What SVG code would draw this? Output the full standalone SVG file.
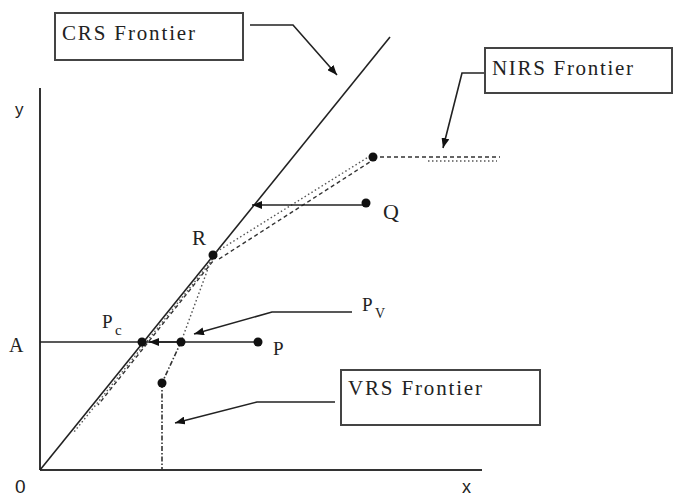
<svg xmlns="http://www.w3.org/2000/svg" width="673" height="497" viewBox="0 0 673 497">
<style>
.ax{stroke:#333;stroke-width:2;fill:none}
.ln{stroke:#222;stroke-width:1.6;fill:none}
.box{stroke:#444;stroke-width:2;fill:#fff}
.dash{stroke:#333;stroke-width:1.4;fill:none;stroke-dasharray:4,3}
.dot{stroke:#555;stroke-width:1.4;fill:none;stroke-dasharray:1.5,2.5}
.dd{stroke:#333;stroke-width:1.6;fill:none;stroke-dasharray:5,2,1.5,2}
.pt{fill:#111}
.serif{font-family:"Liberation Serif","Times New Roman",serif;fill:#222}
.sans{font-family:"Liberation Sans",Arial,sans-serif;fill:#222}
</style>
<defs>
<marker id="ah" viewBox="0 0 10 8" refX="10" refY="4" markerWidth="10" markerHeight="8" markerUnits="userSpaceOnUse" orient="auto">
<path d="M0,0 L10,4 L0,8 z" fill="#111"/>
</marker>
</defs>
<g id="axes">
<line class="ax" x1="40" y1="88" x2="40" y2="470"/>
<line class="ax" x1="40" y1="470" x2="482" y2="470"/>
<text class="sans" x="15" y="115" font-size="17">y</text>
<text class="sans" x="15" y="493" font-size="19">0</text>
<text class="sans" x="462" y="493" font-size="18">x</text>
</g>
<g id="crs-frontier">
<line class="ln" x1="40" y1="470" x2="390" y2="37"/>
</g>
<g id="nirs-frontier">
<line class="dot" x1="213" y1="254" x2="370" y2="156"/>
<line class="dash" x1="219" y1="259" x2="373" y2="160"/>
<line class="dash" x1="217" y1="256" x2="98" y2="405"/>
<line class="dot" x1="213" y1="259" x2="74" y2="432"/>
<line class="dash" x1="373" y1="157" x2="500" y2="157"/>
<line class="dot" x1="428" y1="161" x2="497" y2="161"/>
</g>
<g id="vrs-frontier">
<line class="dot" x1="213" y1="255" x2="181" y2="342" stroke-width="2"/>
<line class="dd" x1="181" y1="342" x2="162" y2="383"/>
<line class="dd" x1="162" y1="383" x2="162" y2="470"/>
</g>
<g id="connectors">
<line class="ln" x1="40" y1="342" x2="258" y2="342"/>
<line class="ln" x1="181" y1="342" x2="149" y2="342" marker-end="url(#ah)"/>
<line class="ln" x1="366" y1="205" x2="252" y2="205" marker-end="url(#ah)"/>
<polyline class="ln" points="250,25 293,25 337,75" marker-end="url(#ah)"/>
<polyline class="ln" points="485,73 462,73 443,148" marker-end="url(#ah)"/>
<polyline class="ln" points="335,402 257,402 175,423" marker-end="url(#ah)"/>
<polyline class="ln" points="352,312 272,312 194,334" marker-end="url(#ah)"/>
</g>
<g id="point-R">
<circle class="pt" cx="213" cy="255" r="4.5"/>
<text class="serif" x="192" y="245" font-size="21">R</text>
</g>
<g id="point-Pc">
<circle class="pt" cx="142" cy="342" r="4.5"/>
<text class="serif" x="102" y="328" font-size="19">P</text>
<text class="serif" x="115" y="335" font-size="15">c</text>
</g>
<g id="point-Pv">
<circle class="pt" cx="181" cy="342" r="4.5"/>
<text class="serif" x="362" y="311" font-size="19">P</text>
<text class="serif" x="375" y="318" font-size="14">V</text>
</g>
<g id="point-P">
<circle class="pt" cx="258" cy="342" r="4.5"/>
<text class="serif" x="273" y="355" font-size="19">P</text>
</g>
<g id="point-A">
<text class="serif" x="9" y="352" font-size="20">A</text>
</g>
<g id="point-Q">
<circle class="pt" cx="366" cy="203" r="4.5"/>
<text class="serif" x="383" y="219" font-size="22">Q</text>
</g>
<g id="point-N">
<circle class="pt" cx="373" cy="157" r="4.5"/>
</g>
<g id="point-V">
<circle class="pt" cx="162" cy="383" r="4.5"/>
</g>
<g id="box-crs">
<rect class="box" x="55" y="13" width="188" height="47"/>
<text class="serif" x="62" y="40" font-size="21" textLength="133" lengthAdjust="spacing">CRS Frontier</text>
</g>
<g id="box-nirs">
<rect class="box" x="485" y="48" width="187" height="45"/>
<text class="serif" x="492" y="75" font-size="21" textLength="141" lengthAdjust="spacing">NIRS Frontier</text>
</g>
<g id="box-vrs">
<rect class="box" x="341" y="370" width="199" height="55"/>
<text class="serif" x="348" y="395" font-size="21" textLength="134" lengthAdjust="spacing">VRS Frontier</text>
</g>
</svg>
